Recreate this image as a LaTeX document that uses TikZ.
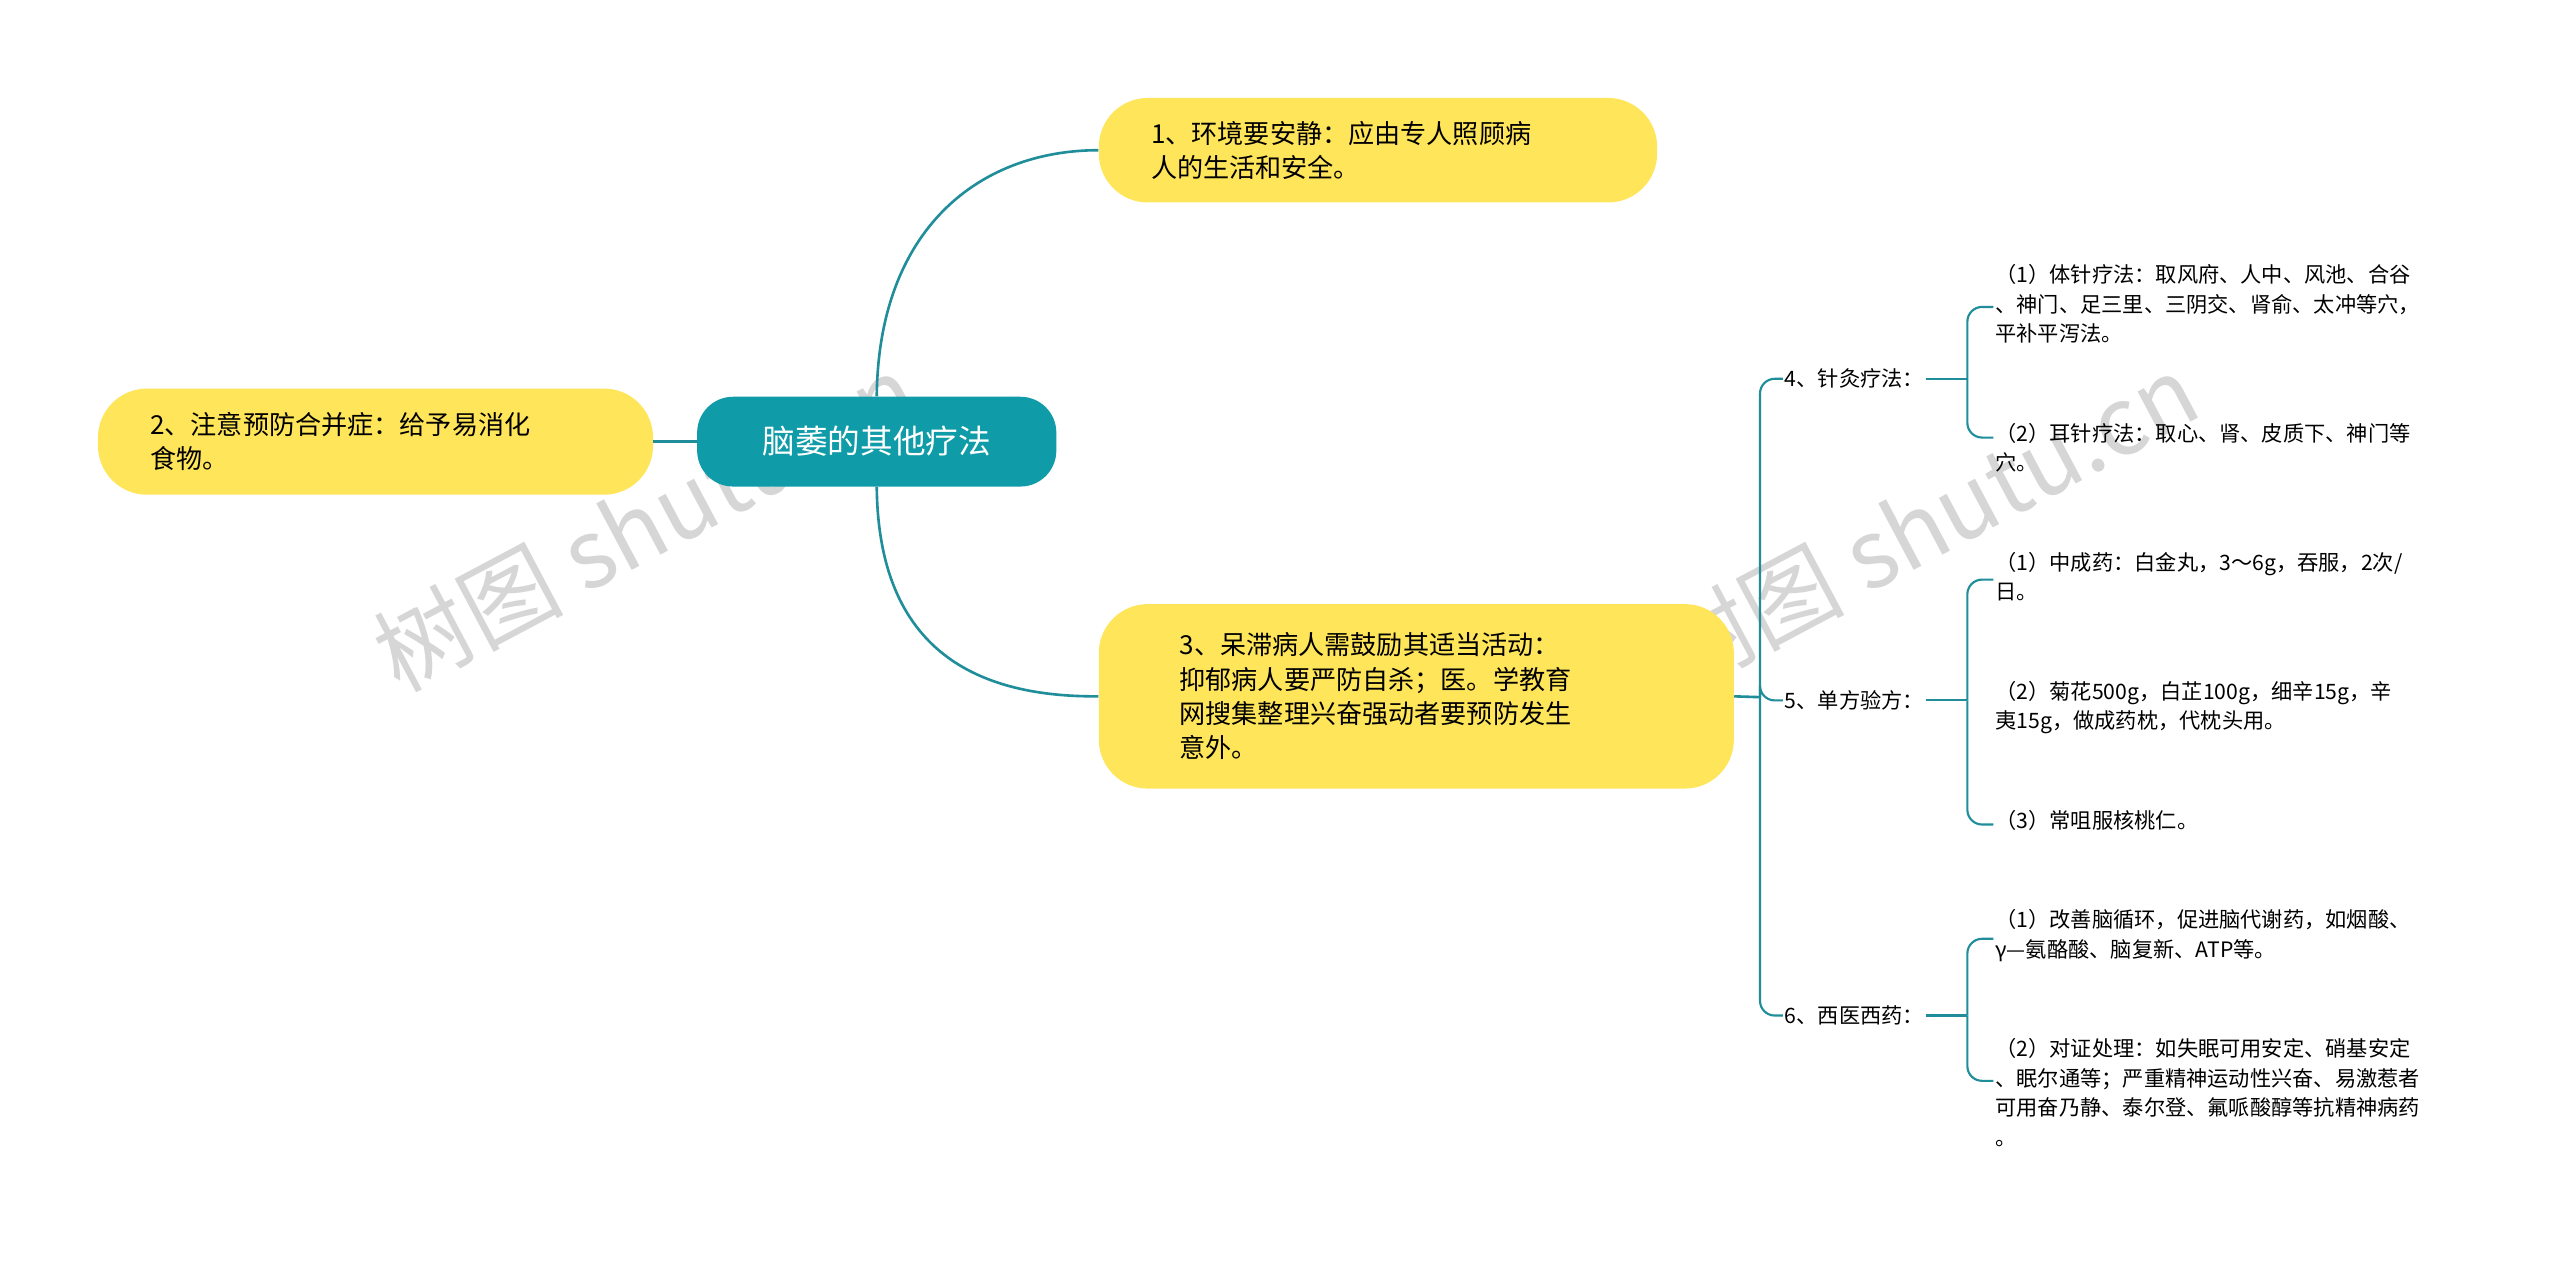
\documentclass[tikz,border=0pt]{standalone}
\usepackage{fontspec}
\setmainfont{Noto Sans CJK SC}
\definecolor{teal1}{HTML}{0F9BA8}
\definecolor{line1}{HTML}{1F8E9A}
\definecolor{yel}{HTML}{FFE55A}
\begin{document}
\begin{tikzpicture}[x=1pt,y=-1pt,
  big/.style={fill=yel,rounded corners=30pt,inner sep=0pt,font=\fontsize{16}{21}\selectfont,align=left},
  small/.style={font=\fontsize{13}{18}\selectfont,align=left,inner sep=1pt},
  conn/.style={line1,line width=1.6pt},
  thin/.style={line1,line width=1.3pt,rounded corners=9pt},
  wm/.style={rotate=28,text=black!16,font=\fontsize{58}{60}\selectfont}]
\useasboundingbox (0,0) rectangle (1568,772);
\fill[white] (0,0) rectangle (1568,772);
% watermarks
\node[wm] (w1) at (395,320) {树图 shutu.cn};
\node[wm] (w2) at (1180,320) {树图 shutu.cn};
% main nodes
\node[fill=teal1,rounded corners=22pt,minimum width=220pt,minimum height=55pt,text=white,font=\fontsize{20}{24}\selectfont] (c) at (537,270.5) {脑萎的其他疗法};
\node[big,minimum width=342pt,minimum height=64pt,text width=278pt] (n1) at (844,92) {1、环境要安静：应由专人照顾病\\人的生活和安全。};
\node[big,minimum width=340pt,minimum height=65pt,text width=276pt] (n2) at (230,270.5) {2、注意预防合并症：给予易消化\\食物。};
\node[big,minimum width=389pt,minimum height=113pt,text width=290pt] (n3) at (867.5,426.5) {3、呆滞病人需鼓励其适当活动：\\抑郁病人要严防自杀；医。学教育\\网搜集整理兴奋强动者要预防发生\\意外。};
\draw[conn] (c.south) .. controls (538,400) and (600,427) .. (n3.west);
\draw[conn] (c.north) .. controls (538,140) and (600,92) .. (n1.west);
\draw[conn] (c.west) -- (n2.east);
% level 2 labels
\node[small,anchor=west] (a4) at (1092,232) {4、针灸疗法：};
\node[small,anchor=west] (a5) at (1092,429) {5、单方验方：};
\node[small,anchor=west] (a6) at (1092,622) {6、西医西药：};
\coordinate (h3) at (1078,427);
\draw[conn] (n3.east) -- (h3);
\foreach \t in {a4,a5,a6} \draw[thin] (h3) |- (\t.west);
% leaves
\node[small,anchor=north west] (l41) at (1221,161) {（1）体针疗法：取风府、人中、风池、合谷\\、神门、足三里、三阴交、肾俞、太冲等穴，\\平补平泻法。};
\node[small,anchor=north west] (l42) at (1221,258) {（2）耳针疗法：取心、肾、皮质下、神门等\\穴。};
\node[small,anchor=north west] (l51) at (1221,337) {（1）中成药：白金丸，3～6g，吞服，2次/\\日。};
\node[small,anchor=north west] (l52) at (1221,416) {（2）菊花500g，白芷100g，细辛15g，辛\\夷15g，做成药枕，代枕头用。};
\node[small,anchor=north west] (l53) at (1221,495) {（3）常咀服核桃仁。};
\node[small,anchor=north west] (l61) at (1221,556) {（1）改善脑循环，促进脑代谢药，如烟酸、\\γ—氨酪酸、脑复新、ATP等。};
\node[small,anchor=north west] (l62) at (1221,635) {（2）对证处理：如失眠可用安定、硝基安定\\、眠尔通等；严重精神运动性兴奋、易激惹者\\可用奋乃静、泰尔登、氟哌酸醇等抗精神病药\\。};
\coordinate (h4) at (1205,232);
\coordinate (h5) at (1205,429);
\coordinate (h6) at (1205,622);
\draw[thin] (a4.east) -- (h4);
\draw[thin] (a5.east) -- (h5);
\draw[thin] (a6.east) -- (h6);
\draw[thin] (h4) |- (1221,188); \draw[thin] (h4) |- (1221,268);
\draw[thin] (h5) |- (1221,355); \draw[thin] (h5) |- (1221,505);
\draw[thin] (h6) |- (1221,575); \draw[thin] (h6) |- (1221,662);
\end{tikzpicture}
\end{document}
